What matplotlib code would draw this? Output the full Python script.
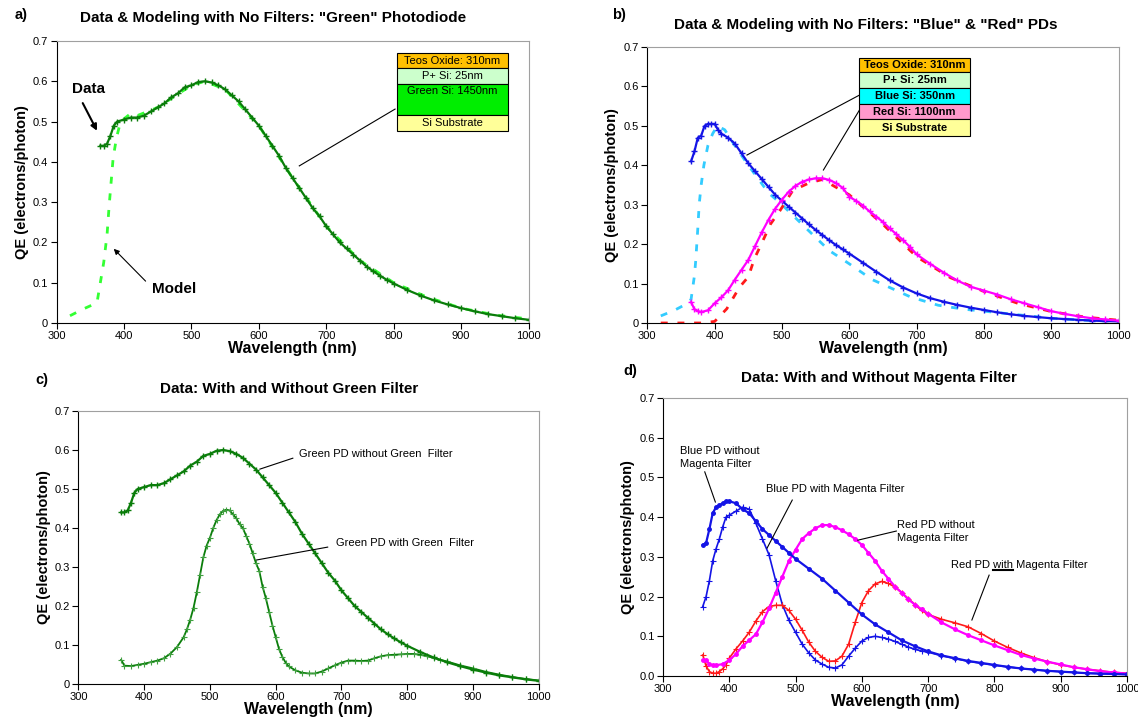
import matplotlib
matplotlib.use("Agg")
import matplotlib.pyplot as plt
from matplotlib.lines import Line2D
from matplotlib.patches import Rectangle
from matplotlib.transforms import IdentityTransform

plt.rcParams['font.family'] = ['Liberation Sans', 'DejaVu Sans']

# ---------------- data ----------------
# green photodiode, no filter (measured) - used in a) and c)
wl_green = [365, 370, 375, 380, 385, 390, 400, 410, 420, 430, 440, 450, 460, 470, 480, 490,
            500, 510, 520, 530, 540, 550, 560, 570, 580, 590, 600, 610, 620, 630, 640, 650,
            660, 670, 680, 690, 700, 710, 720, 730, 740, 750, 760, 770, 780, 790, 800, 820,
            840, 860, 880, 900, 920, 940, 960, 980, 1000]
qe_green = [0.44, 0.44, 0.445, 0.465, 0.49, 0.50, 0.505, 0.51, 0.51, 0.515, 0.525, 0.535, 0.545,
            0.56, 0.57, 0.585, 0.59, 0.598, 0.60, 0.597, 0.59, 0.58, 0.565, 0.55, 0.53, 0.51,
            0.49, 0.465, 0.44, 0.415, 0.385, 0.36, 0.335, 0.31, 0.285, 0.265, 0.24, 0.22, 0.20,
            0.185, 0.17, 0.155, 0.14, 0.128, 0.117, 0.107, 0.098, 0.082, 0.068, 0.056, 0.046,
            0.037, 0.029, 0.022, 0.017, 0.012, 0.008]

# green photodiode model
wl_green_model = [320, 340, 360, 370, 375, 378, 381, 384, 389, 395, 410, 420, 450, 500, 520,
                  550, 600, 650, 700, 750, 800, 850, 900, 950, 1000]
qe_green_model = [0.018, 0.035, 0.05, 0.15, 0.22, 0.29, 0.35, 0.41, 0.46, 0.50, 0.52, 0.515,
                  0.535, 0.59, 0.60, 0.58, 0.49, 0.36, 0.24, 0.155, 0.10, 0.064, 0.037, 0.02, 0.01]

# blue photodiode, no filter (measured)
wl_blue = [365, 370, 375, 380, 385, 390, 395, 400, 405, 410, 420, 430, 440, 450, 460, 470, 480,
           490, 500, 510, 520, 530, 540, 550, 560, 570, 580, 590, 600, 620, 640, 660, 680, 700,
           720, 740, 760, 780, 800, 820, 840, 860, 880, 900, 920, 940, 960, 980, 1000]
qe_blue = [0.41, 0.435, 0.47, 0.475, 0.50, 0.505, 0.505, 0.505, 0.49, 0.48, 0.47, 0.455, 0.43,
           0.405, 0.385, 0.365, 0.345, 0.325, 0.31, 0.295, 0.28, 0.265, 0.25, 0.236, 0.223,
           0.21, 0.198, 0.187, 0.176, 0.153, 0.13, 0.108, 0.09, 0.075, 0.063, 0.054, 0.046,
           0.039, 0.033, 0.027, 0.022, 0.018, 0.015, 0.012, 0.01, 0.008, 0.006, 0.005, 0.004]

# blue photodiode model
wl_blue_model = [320, 340, 360, 365, 370, 372, 375, 377, 380, 384, 390, 397, 404, 415, 430,
                 450, 480, 500, 530, 570, 600, 634, 660, 691, 732, 770, 800, 850, 900, 950, 1000]
qe_blue_model = [0.018, 0.032, 0.05, 0.06, 0.12, 0.16, 0.24, 0.30, 0.35, 0.40, 0.45, 0.48,
                 0.50, 0.49, 0.45, 0.40, 0.33, 0.30, 0.25, 0.184, 0.15, 0.11, 0.09, 0.066,
                 0.045, 0.035, 0.03, 0.021, 0.012, 0.007, 0.004]

# red photodiode, no filter (measured) - panel b)
wl_red = [365, 370, 375, 380, 390, 400, 410, 420, 430, 440, 450, 460, 470, 480, 490, 500, 510,
          520, 530, 540, 550, 560, 570, 580, 590, 600, 610, 620, 630, 640, 650, 660, 670, 680,
          690, 700, 720, 740, 760, 780, 800, 820, 840, 860, 880, 900, 920, 940, 960, 980, 1000]
qe_red = [0.053, 0.035, 0.03, 0.028, 0.032, 0.05, 0.065, 0.083, 0.11, 0.135, 0.16, 0.195, 0.23,
          0.262, 0.29, 0.313, 0.333, 0.348, 0.358, 0.364, 0.367, 0.367, 0.363, 0.355, 0.343,
          0.32, 0.31, 0.298, 0.283, 0.27, 0.256, 0.24, 0.225, 0.21, 0.193, 0.174, 0.15, 0.128,
          0.108, 0.092, 0.082, 0.072, 0.06, 0.05, 0.04, 0.03, 0.023, 0.017, 0.012, 0.009, 0.006]

# red photodiode model
wl_red_model = [320, 340, 360, 380, 400, 404, 418, 437, 450, 459, 472, 483, 497, 516, 540, 560,
                600, 650, 700, 750, 800, 850, 900, 950, 1000]
qe_red_model = [0.0, 0.0, 0.0, 0.0, 0.004, 0.011, 0.036, 0.091, 0.117, 0.163, 0.21, 0.251, 0.285,
                0.336, 0.355, 0.364, 0.325, 0.25, 0.168, 0.115, 0.08, 0.05, 0.029, 0.015, 0.007]

# green photodiode with green filter
wl_green_f = [365, 370, 380, 390, 400, 410, 420, 430, 440, 450, 460, 465, 470, 475, 480, 485,
              490, 495, 500, 505, 510, 515, 520, 525, 530, 535, 540, 545, 550, 555, 560, 565,
              570, 575, 580, 585, 590, 595, 600, 605, 610, 615, 620, 630, 640, 650, 660, 670,
              680, 690, 700, 710, 720, 730, 740, 750, 760, 770, 780, 790, 800, 810, 820, 830,
              840, 850, 860, 880, 900, 920, 940, 960, 980, 1000]
qe_green_f = [0.062, 0.047, 0.046, 0.049, 0.052, 0.056, 0.06, 0.066, 0.078, 0.095, 0.12, 0.14,
              0.165, 0.195, 0.235, 0.28, 0.325, 0.355, 0.375, 0.40, 0.42, 0.435, 0.444, 0.447,
              0.445, 0.435, 0.425, 0.41, 0.40, 0.38, 0.36, 0.335, 0.31, 0.29, 0.25, 0.22, 0.185,
              0.15, 0.12, 0.09, 0.07, 0.055, 0.045, 0.035, 0.029, 0.027, 0.027, 0.032, 0.04,
              0.048, 0.055, 0.06, 0.06, 0.059, 0.06, 0.066, 0.071, 0.074, 0.075, 0.076, 0.077,
              0.077, 0.075, 0.071, 0.067, 0.062, 0.058, 0.048, 0.04, 0.031, 0.024, 0.018,
              0.013, 0.009]

# panel d) blue PD with / without magenta filter
wl_blue_d = [360, 365, 370, 375, 380, 385, 390, 395, 400, 410, 420, 430, 440, 450, 460, 470,
             480, 490, 500, 520, 540, 560, 580, 600, 620, 640, 660, 680, 700, 720, 740, 760,
             780, 800, 820, 840, 860, 880, 900, 920, 940, 960, 980, 1000]
qe_blue_d = [0.33, 0.335, 0.37, 0.41, 0.425, 0.43, 0.435, 0.44, 0.44, 0.435, 0.42, 0.41, 0.39,
             0.37, 0.355, 0.34, 0.325, 0.31, 0.295, 0.27, 0.245, 0.215, 0.185, 0.155, 0.13,
             0.11, 0.09, 0.075, 0.062, 0.052, 0.045, 0.038, 0.033, 0.028, 0.023, 0.019, 0.016,
             0.013, 0.011, 0.009, 0.007, 0.006, 0.005, 0.004]

wl_blue_mf = [360, 365, 370, 375, 380, 385, 390, 395, 400, 410, 420, 430, 440, 450, 460, 470,
              480, 490, 500, 510, 520, 530, 540, 550, 560, 570, 580, 590, 600, 610, 620, 630,
              640, 650, 660, 670, 680, 690, 700, 720, 740, 760, 780, 800, 820, 840, 860, 880,
              900, 920, 940, 960, 980, 1000]
qe_blue_mf = [0.175, 0.2, 0.24, 0.29, 0.32, 0.345, 0.375, 0.40, 0.405, 0.415, 0.425, 0.42,
              0.385, 0.345, 0.305, 0.24, 0.18, 0.14, 0.11, 0.08, 0.058, 0.04, 0.03, 0.022, 0.02,
              0.028, 0.05, 0.07, 0.088, 0.097, 0.10, 0.097, 0.093, 0.087, 0.08, 0.073, 0.067,
              0.063, 0.06, 0.051, 0.044, 0.037, 0.032, 0.027, 0.023, 0.019, 0.016, 0.013,
              0.011, 0.009, 0.007, 0.006, 0.005, 0.004]

# panel d) red PD with / without magenta filter
wl_red_d = [360, 365, 370, 375, 380, 390, 400, 410, 420, 430, 440, 450, 460, 470, 480, 490, 500,
            510, 520, 530, 540, 550, 560, 570, 580, 590, 600, 610, 620, 630, 640, 650, 660, 670,
            680, 690, 700, 720, 740, 760, 780, 800, 820, 840, 860, 880, 900, 920, 940, 960, 980,
            1000]
qe_red_d = [0.04, 0.04, 0.03, 0.027, 0.027, 0.03, 0.04, 0.055, 0.075, 0.09, 0.105, 0.135, 0.17,
            0.21, 0.25, 0.29, 0.318, 0.345, 0.36, 0.372, 0.38, 0.38, 0.375, 0.367, 0.357, 0.345,
            0.33, 0.31, 0.29, 0.265, 0.245, 0.225, 0.21, 0.193, 0.18, 0.168, 0.157, 0.135,
            0.118, 0.103, 0.09, 0.077, 0.065, 0.053, 0.044, 0.036, 0.029, 0.022, 0.017, 0.012,
            0.009, 0.006]

wl_red_mf = [360, 365, 370, 375, 380, 385, 390, 395, 400, 410, 420, 430, 440, 450, 460, 470,
             480, 490, 500, 510, 520, 530, 540, 550, 560, 570, 580, 590, 600, 610, 620, 630,
             640, 650, 660, 670, 680, 690, 700, 720, 740, 760, 780, 800, 820, 840, 860, 880,
             900, 920, 940, 960, 980, 1000]
qe_red_mf = [0.053, 0.025, 0.011, 0.007, 0.007, 0.011, 0.018, 0.028, 0.045, 0.068, 0.088, 0.11,
             0.138, 0.162, 0.175, 0.178, 0.178, 0.165, 0.143, 0.115, 0.085, 0.062, 0.047, 0.037,
             0.038, 0.05, 0.08, 0.135, 0.185, 0.215, 0.232, 0.238, 0.233, 0.224, 0.21, 0.195,
             0.18, 0.165, 0.155, 0.143, 0.134, 0.124, 0.107, 0.088, 0.072, 0.058, 0.046, 0.036,
             0.028, 0.022, 0.017, 0.013, 0.009, 0.007]

x_ticks = [300, 400, 500, 600, 700, 800, 900, 1000]
y_ticks = [0, 0.1, 0.2, 0.3, 0.4, 0.5, 0.6, 0.7]

stack_a = [("Teos Oxide: 310nm", "#FFC000", 1), ("P+ Si: 25nm", "#CCFFCC", 1),
           ("Green Si: 1450nm", "#00EE00", 2), ("Si Substrate", "#FFFF99", 1)]
stack_b = [("Teos Oxide: 310nm", "#FFC000"), ("P+ Si: 25nm", "#CCFFCC"),
           ("Blue Si: 350nm", "#00FFFF"), ("Red Si: 1100nm", "#FF99CC"),
           ("Si Substrate", "#FFFF99")]

DKGREEN = "#0A7D0A"
LIME = "#33FF33"
BLUE = "#1414E6"
CYAN = "#33CCFF"
MAGENTA = "#FF00FF"
RED = "#FF1A1A"

W, H = 1138, 724
fig = plt.figure(figsize=(W / 100, H / 100), dpi=100)


def axes_px(left, top, right, bottom):
    return fig.add_axes([left / W, 1 - bottom / H, (right - left) / W, (bottom - top) / H])


def style(ax, yfmt="%g"):
    ax.set_xlim(300, 1000)
    ax.set_ylim(0, 0.7)
    ax.set_xticks(x_ticks)
    ax.set_yticks(y_ticks)
    ax.set_yticklabels([yfmt % v for v in y_ticks])
    ax.tick_params(direction='out', length=4, width=0.8, labelsize=8, pad=2)
    for s in ['top', 'right']:
        ax.spines[s].set_color('#A0A0A0')
    for s in ['left', 'bottom']:
        ax.spines[s].set_color('black')
    ax.set_xlabel("Wavelength (nm)", fontsize=11.5, fontweight='bold', labelpad=0)
    ax.set_ylabel("QE (electrons/photon)", fontsize=10.5, fontweight='bold', labelpad=3)


def ftext(x, y, s, **kw):
    fig.text(x / W, 1 - y / H, s, **kw)


# ---------------- a) ----------------
ax = axes_px(56.5, 41, 528.6, 323)
style(ax)
ax.plot(wl_green_model, qe_green_model, color=LIME, lw=2, dashes=(2.5, 3.5))
ax.plot(wl_green, qe_green, color=DKGREEN, lw=1.6, marker='+', ms=4, mew=1)
ax.annotate("", xy=(362, 0.471), xytext=(337, 0.552),
            arrowprops=dict(arrowstyle='-|>', color='black', lw=1.5, mutation_scale=9))
ax.text(323, 0.582, "Data", fontsize=11, fontweight='bold', va='center')
ax.annotate("", xy=(382, 0.189), xytext=(435, 0.099),
            arrowprops=dict(arrowstyle='-|>', color='black', lw=0.8, mutation_scale=8))
ax.text(441, 0.084, "Model", fontsize=11, fontweight='bold', va='center')
ax.plot([802, 660], [0.531, 0.39], color='black', lw=0.8)
y_edges = [0.670, 0.633, 0.593, 0.516, 0.477]
for i, (label, col, n) in enumerate(stack_a):
    y1, y0 = y_edges[i], y_edges[i + 1]
    ax.add_patch(Rectangle((805, y0), 164, y1 - y0, facecolor=col, edgecolor='black', lw=0.8,
                           zorder=5))
    ty = (y0 + y1) / 2 if n == 1 else y1 - 0.018
    ax.text(887, ty, label, fontsize=8, ha='center', va='center', zorder=6)

ftext(273, 18, 'Data & Modeling with No Filters: "Green" Photodiode', fontsize=11,
      fontweight='bold', ha='center', va='center')
ftext(15, 15, "a)", fontsize=10.5, fontweight='bold', va='center')

# ---------------- b) ----------------
ax = axes_px(647.3, 47, 1118.7, 323)
style(ax)
ax.plot(wl_blue_model, qe_blue_model, color=CYAN, lw=2, dashes=(2.5, 3.5))
ax.plot(wl_red_model, qe_red_model, color=RED, lw=2, dashes=(2.5, 3.5))
ax.plot(wl_blue, qe_blue, color=BLUE, lw=1.6, marker='+', ms=4, mew=1)
ax.plot(wl_red, qe_red, color=MAGENTA, lw=1.6, marker='+', ms=4, mew=1)
ax.plot([615, 448], [0.578, 0.426], color='black', lw=0.8)
ax.plot([615, 561.5], [0.540, 0.388], color='black', lw=0.8)
y_edges = [0.672, 0.637, 0.596, 0.555, 0.517, 0.474]
for i, (label, col) in enumerate(stack_b):
    y1, y0 = y_edges[i], y_edges[i + 1]
    ax.add_patch(Rectangle((615, y0), 164, y1 - y0, facecolor=col, edgecolor='black', lw=0.8,
                           zorder=5))
    ax.text(697, (y0 + y1) / 2, label, fontsize=8, fontweight='bold', ha='center', va='center',
            zorder=6)

ftext(866, 25, 'Data & Modeling with No Filters: "Blue" & "Red" PDs', fontsize=11,
      fontweight='bold', ha='center', va='center')
ftext(612, 15, "b)", fontsize=10.5, fontweight='bold', va='center')

# ---------------- c) ----------------
ax = axes_px(78.4, 411, 538.8, 684)
style(ax)
ax.plot(wl_green_f, qe_green_f, color=DKGREEN, lw=1.3, marker='+', ms=5, mew=0.8,
        markeredgecolor="#40A040")
ax.plot(wl_green, qe_green, color=DKGREEN, lw=1.6, marker='+', ms=4, mew=1)
ax.text(636, 0.590, "Green PD without Green  Filter", fontsize=8, va='center')
ax.plot([626, 576], [0.579, 0.551], color='black', lw=0.8)
ax.text(691, 0.362, "Green PD with Green  Filter", fontsize=8, va='center')
ax.plot([679, 571], [0.351, 0.318], color='black', lw=0.8)

ftext(289, 389, "Data: With and Without Green Filter", fontsize=11, fontweight='bold',
      ha='center', va='center')
ftext(35, 380, "c)", fontsize=10.5, fontweight='bold', va='center')

# ---------------- d) ----------------
ax = axes_px(663, 398, 1127, 676)
style(ax, "%.1f")
ax.plot(wl_blue_mf, qe_blue_mf, color=BLUE, lw=1.2, marker='+', ms=5, mew=0.8)
ax.plot(wl_red_mf, qe_red_mf, color=RED, lw=1.2, marker='+', ms=5, mew=0.8)
ax.plot(wl_red_d, qe_red_d, color=MAGENTA, lw=1.6, marker='o', ms=2.5)
ax.plot(wl_blue_d, qe_blue_d, color=BLUE, lw=1.6, marker='o', ms=2.5)

ax.text(326, 0.551, "Blue PD without\nMagenta Filter", fontsize=8, va='center',
        linespacing=1.4)
ax.plot([363, 379], [0.514, 0.438], color='black', lw=0.8)
ax.text(455, 0.471, "Blue PD with Magenta Filter", fontsize=8, va='center')
ax.plot([495, 457], [0.443, 0.322], color='black', lw=0.8)
ax.text(653, 0.363, "Red PD without\nMagenta Filter", fontsize=8, va='center',
        linespacing=1.4)
ax.plot([652, 594], [0.365, 0.342], color='black', lw=0.8)
ax.plot([792, 766], [0.254, 0.141], color='black', lw=0.8)

ax.text(734, 0.279, "Red PD with Magenta Filter", fontsize=8, va='center')
r = fig.canvas.get_renderer()
t_tmp = ax.text(734, 0.279, "Red PD with", fontsize=8, va='center')
w_all = t_tmp.get_window_extent(r)
t_tmp.set_text("with")
w_with = t_tmp.get_window_extent(r).width
t_tmp.remove()
x1 = w_all.x1
x0 = x1 - w_with
yb = w_all.y0 + 0.5
fig.add_artist(Line2D([x0, x1], [yb, yb], color='black', lw=1.5, transform=IdentityTransform()))

ftext(879, 378, "Data: With and Without Magenta Filter", fontsize=11, fontweight='bold',
      ha='center', va='center')
ftext(623, 371, "d)", fontsize=10.5, fontweight='bold', va='center')

fig.savefig("out.png", dpi=100, facecolor='white')
